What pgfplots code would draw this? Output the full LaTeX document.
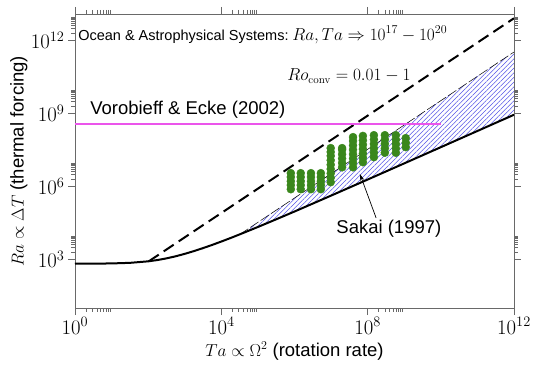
\documentclass[border=0pt]{standalone}
\usepackage[no-math]{fontspec}
\setmainfont{Liberation Sans}
\usepackage{pgfplots}
\pgfplotsset{compat=1.18}
\usetikzlibrary{patterns.meta,arrows.meta}
\definecolor{sakaigreen}{RGB}{58,135,28}
\definecolor{vmag}{RGB}{235,85,235}
\definecolor{hatchblue}{RGB}{85,85,230}
\definecolor{axgray}{RGB}{105,105,105}
\begin{document}
\begin{tikzpicture}
\begin{axis}[
  at={(0,0)}, anchor=south west,
  scale only axis, width=439pt, height=294pt,
  xmode=log, ymode=log,
  xmin=1, xmax=1e12, ymin=10, ymax=1.2e13,
  xtick={1,1e4,1e8,1e12}, ytick={1e3,1e6,1e9,1e12},
  minor xtick={2,3,4,5,6,7,8,9,2e4,3e4,4e4,5e4,6e4,7e4,8e4,9e4,2e8,3e8,4e8,5e8,6e8,7e8,8e8,9e8},
  minor ytick={2e3,3e3,4e3,5e3,6e3,7e3,8e3,9e3,2e6,3e6,4e6,5e6,6e6,7e6,8e6,9e6,2e9,3e9,4e9,5e9,6e9,7e9,8e9,9e9,2e12,3e12,4e12,5e12,6e12,7e12,8e12,9e12},
  tick align=outside,
  major tick length=7pt, minor tick length=4pt,
  axis line style={axgray, line width=0.7pt},
  every tick/.style={axgray, line width=0.6pt},
  tick label style={font=\fontsize{20.5}{23}\selectfont},
  xticklabel style={inner sep=2pt},
  xlabel={$Ta \propto \Omega^2$ (rotation rate)},
  ylabel={$Ra \propto \Delta T$ (thermal forcing)},
  every axis x label/.style={at={(axis description cs:0.5,-0.146)}, anchor=center, font=\fontsize{18.5}{22}\selectfont},
  every axis y label/.style={at={(axis description cs:-0.128,0.5)}, rotate=90, anchor=center, font=\fontsize{18.5}{22}\selectfont},
  clip=true,
]
% hatched region between thin dashed line and onset curve
\addplot[draw=none, pattern color=hatchblue, pattern={Lines[angle=45,distance=3.3pt,line width=0.55pt]}] coordinates {
(3.2e4,1.06e4) (1e12,3.3e11) (1e12,8.699e8) (3.162e11,4.041e8) (1e11,1.875e8)
(3.162e10,8.714e7) (1e10,4.046e7) (3.162e9,1.881e7) (1e9,8.745e6) (3.162e8,4.072e6)
(1e8,1.896e6) (3.162e7,8.865e5) (1e7,4.147e5) (3.162e6,1.951e5) (1e6,9.198e4)
(3.162e5,4.407e4) (1e5,2.132e4) (3.2e4,1.06e4)} -- cycle;
% onset curve
\addplot[black, line width=2pt] coordinates {
(1,659.5) (3.16,663.8) (10,677.7) (31.6,716) (100,826.7) (178,932.5) (316,1093)
(562,1329) (1000,1678) (1778,2176) (3162,2887) (5623,3910) (1e4,5380) (17783,7491)
(31623,10549) (1e5,21320) (3.162e5,44068) (1e6,91980) (3.162e6,195075) (1e7,414700)
(3.162e7,886500) (1e8,1.896e6) (3.162e8,4.072e6) (1e9,8.745e6) (3.162e9,1.881e7)
(1e10,4.046e7) (3.162e10,8.714e7) (1e11,1.875e8) (3.162e11,4.041e8) (1e12,8.699e8)};
% Ro = 1 line
\addplot[black, line width=2pt, dash pattern=on 12pt off 6pt] coordinates {(103.5,828) (1e12,8e12)};
% thin dashed line
\addplot[black, line width=0.5pt, dash pattern=on 10pt off 2.5pt] coordinates {(3.2e4,1.06e4) (1e12,3.3e11)};
% Vorobieff & Ecke
\addplot[vmag, line width=2pt] coordinates {(1,3.8e8) (1e10,3.8e8)};
% Sakai data
\addplot[only marks, mark=*, mark size=4pt, color=sakaigreen] table {
x y
7.94e5 7.59e5
7.94e5 1.12e6
7.94e5 1.62e6
7.94e5 2.40e6
7.94e5 3.47e6
1.48e6 7.59e5
1.48e6 1.12e6
1.48e6 1.62e6
1.48e6 2.40e6
1.48e6 3.47e6
2.82e6 7.59e5
2.82e6 1.12e6
2.82e6 1.62e6
2.82e6 2.40e6
2.82e6 3.47e6
5.25e6 7.59e5
5.25e6 1.12e6
5.25e6 1.62e6
5.25e6 2.40e6
5.25e6 3.47e6
9.77e6 1.48e6
9.77e6 2.24e6
9.77e6 3.39e6
9.77e6 5.13e6
9.77e6 7.76e6
9.77e6 1.175e7
9.77e6 1.78e7
9.77e6 2.57e7
9.77e6 3.72e7
2.0e7 6.03e6
2.0e7 9.12e6
2.0e7 1.38e7
2.0e7 2.09e7
2.0e7 3.16e7
2.0e7 3.72e7
3.98e7 6.03e6
3.98e7 9.12e6
3.98e7 1.38e7
3.98e7 2.09e7
3.98e7 3.16e7
3.98e7 4.79e7
3.98e7 7.24e7
3.98e7 1.05e8
7.41e7 9.77e6
7.41e7 1.48e7
7.41e7 2.24e7
7.41e7 3.39e7
7.41e7 5.13e7
7.41e7 7.76e7
7.41e7 1.175e8
1.48e8 1.58e7
1.48e8 2.40e7
1.48e8 3.63e7
1.48e8 5.50e7
1.48e8 8.32e7
1.48e8 1.26e8
2.95e8 2.40e7
2.95e8 3.63e7
2.95e8 5.50e7
2.95e8 8.32e7
2.95e8 1.26e8
5.89e8 2.40e7
5.89e8 3.63e7
5.89e8 5.50e7
5.89e8 8.32e7
5.89e8 1.26e8
1.10e9 4.07e7
1.10e9 6.17e7
1.10e9 9.55e7
};
% annotations
\node[anchor=west, inner sep=0pt] at (rel axis cs:0.007,0.929) {{\fontsize{14.5}{17}\selectfont Ocean \& Astrophysical Systems:} {\fontsize{18}{21}\selectfont $Ra, Ta \Rightarrow 10^{17} - 10^{20}$}};
\node[inner sep=0pt] at (rel axis cs:0.624,0.788) {\fontsize{16}{19}\selectfont $Ro_{\mathrm{conv}} = 0.01 - 1$};
\node[inner sep=0pt] at (rel axis cs:0.257,0.673) {\fontsize{18.5}{22}\selectfont Vorobieff \& Ecke (2002)};
\node[inner sep=0pt] at (rel axis cs:0.715,0.270) {\fontsize{18.5}{22}\selectfont Sakai (1997)};
\draw[black, line width=0.7pt, -{Stealth[length=7pt,width=4pt]}] (rel axis cs:0.686,0.306) -- (rel axis cs:0.649,0.456);
\end{axis}
\pgfresetboundingbox
\useasboundingbox (-75pt,-64pt) rectangle (458pt,308pt);
\end{tikzpicture}
\end{document}
